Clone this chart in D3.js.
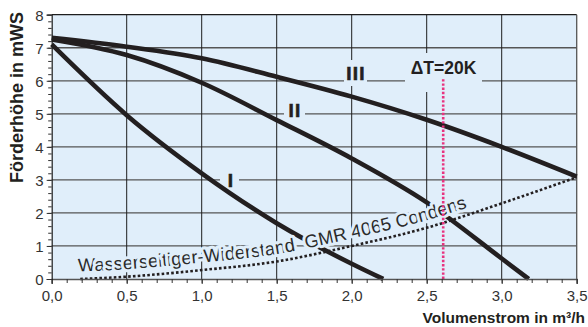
<!DOCTYPE html>
<html>
<head>
<meta charset="utf-8">
<script src="https://cdn.jsdelivr.net/npm/d3@7"></script>
<style>
  body { margin: 0; background: #fff; }
  svg { display: block; font-family: "Liberation Sans", Arial, sans-serif; }
  .tick text { fill: #333; font-size: 15px; }
</style>
</head>
<body>
<div id="chart"></div>
<script>
// Pumpenkennlinien (Förderhöhe über Volumenstrom)
const stufeI_x   = [0, 0.5, 1.0, 1.5, 2.0, 2.21];
const stufeI_y   = [7.1, 4.96, 3.2, 1.69, 0.46, 0];
const stufeII_x  = [0, 0.5, 1.0, 1.5, 2.0, 2.5, 3.0, 3.18];
const stufeII_y  = [7.25, 6.78, 5.94, 4.81, 3.65, 2.32, 0.62, 0];
const stufeIII_x = [0, 0.5, 1.0, 1.5, 2.0, 2.5, 3.0, 3.5];
const stufeIII_y = [7.3, 7.03, 6.68, 6.12, 5.52, 4.82, 4.0, 3.1];
// Wasserseitiger Widerstand
const widerstand_x = [0.19, 0.5, 1.0, 1.5, 2.0, 2.5, 3.0, 3.5];
const widerstand_y = [0, 0.07, 0.27, 0.53, 1.0, 1.55, 2.29, 3.08];
// Auslegungspunkt ΔT=20K
const deltaT_x = 2.61;
const deltaT_top = 6.05;

const xTicks = [0, 0.5, 1.0, 1.5, 2.0, 2.5, 3.0, 3.5];
const yTicks = [0, 1, 2, 3, 4, 5, 6, 7, 8];

const width = 588, height = 327;
const bg = "#e0eefa";
const ink = "#231f20";

const svg = d3.select("#chart").append("svg")
    .attr("width", width)
    .attr("height", height);

const x = d3.scaleLinear().domain([0, 3.5]).range([51.7, 576.7]);
const y = d3.scaleLinear().domain([0, 8]).range([279, 14.7]);

// Hintergrund
svg.append("rect")
    .attr("x", x(0)).attr("y", y(8))
    .attr("width", x(3.5) - x(0)).attr("height", y(0) - y(8))
    .attr("fill", bg);

// Gitter
svg.append("g").selectAll("line")
    .data(yTicks.slice(1, -1))
    .join("line")
    .attr("x1", x(0)).attr("x2", x(3.5))
    .attr("y1", d => y(d)).attr("y2", d => y(d))
    .attr("stroke", "#555").attr("stroke-width", 1.3);

svg.append("g").selectAll("line")
    .data(xTicks.slice(1, -1))
    .join("line")
    .attr("x1", d => x(d)).attr("x2", d => x(d))
    .attr("y1", y(0)).attr("y2", y(8))
    .attr("stroke", "#1e1e1e").attr("stroke-width", 1);

// Rahmen oben / rechts
svg.append("line").attr("x1", x(0)).attr("x2", x(3.5)).attr("y1", y(8)).attr("y2", y(8))
    .attr("stroke", "#1e1e1e").attr("stroke-width", 1.2);
svg.append("line").attr("x1", x(3.5)).attr("x2", x(3.5)).attr("y1", y(8)).attr("y2", y(0))
    .attr("stroke", "#555").attr("stroke-width", 1.3);

// Label-Boxen (verdecken das Gitter)
const boxes = [
    [344, 60, 23, 26],   // III
    [284, 98, 21, 21],   // II
    [220, 168, 19, 24],  // I
    [405, 53, 77, 39]    // ΔT
];
svg.append("g").selectAll("rect")
    .data(boxes)
    .join("rect")
    .attr("x", d => d[0]).attr("y", d => d[1])
    .attr("width", d => d[2]).attr("height", d => d[3])
    .attr("fill", bg);

// Kennlinien
const line = d3.line()
    .x(d => x(d[0]))
    .y(d => y(d[1]))
    .curve(d3.curveMonotoneX);

const curves = [
    d3.zip(stufeI_x, stufeI_y),
    d3.zip(stufeII_x, stufeII_y),
    d3.zip(stufeIII_x, stufeIII_y)
];
svg.append("g").selectAll("path")
    .data(curves)
    .join("path")
    .attr("d", line)
    .attr("fill", "none")
    .attr("stroke", ink)
    .attr("stroke-width", 4.6);

// Text entlang der Widerstandskurve
const wData = d3.zip(widerstand_x, widerstand_y);
const textLine = d3.line()
    .x(d => x(d[0]))
    .y(d => y(d[1]) - 7.5)
    .curve(d3.curveMonotoneX);

svg.append("defs").append("path")
    .attr("id", "wpath")
    .attr("d", textLine(wData));

svg.append("text")
    .attr("font-size", 18.3)
    .attr("fill", "#2a2a2a")
    .attr("stroke", bg)
    .attr("stroke-width", 6)
    .attr("stroke-linejoin", "round")
    .attr("paint-order", "stroke")
    .style("white-space", "pre")
    .append("textPath")
    .attr("href", "#wpath")
    .attr("startOffset", -2)
    .text("Wasserseitiger-Widerstand  GMR 4065 Condens");

// Widerstandskurve gepunktet
svg.append("path")
    .attr("d", line(wData))
    .attr("fill", "none")
    .attr("stroke", ink)
    .attr("stroke-width", 2.6)
    .attr("stroke-dasharray", "2.6,2.2");

// ΔT=20K Linie
svg.append("line")
    .attr("x1", x(deltaT_x)).attr("x2", x(deltaT_x))
    .attr("y1", y(0)).attr("y2", y(deltaT_top))
    .attr("stroke", "#e8337f")
    .attr("stroke-width", 2.6)
    .attr("stroke-dasharray", "2.4,1.8");

// Beschriftung der Kurven
const labels = [
    { t: "III", x: 356, y: 80, ls: 1.2, fs: 19 },
    { t: "II", x: 295, y: 117, ls: 1.2, fs: 19 },
    { t: "I", x: 230.5, y: 187, ls: 0, fs: 19 },
    { t: "ΔT=20K", x: 443.5, y: 74, ls: 0, fs: 17.5 }
];
svg.append("g").selectAll("text")
    .data(labels)
    .join("text")
    .attr("x", d => d.x).attr("y", d => d.y)
    .attr("text-anchor", "middle")
    .attr("font-weight", "bold")
    .attr("font-size", d => d.fs)
    .attr("letter-spacing", d => d.ls)
    .attr("fill", ink)
    .attr("stroke", ink)
    .attr("stroke-width", d => d.t.length < 4 ? 0.6 : 0)
    .text(d => d.t);

// Achsen
const fmt = d => d3.format(".1f")(d).replace(".", ",");

const xAxis = svg.append("g")
    .attr("transform", `translate(0,${y(0)})`)
    .call(d3.axisBottom(x).tickValues(xTicks).tickFormat(fmt).tickSize(5).tickPadding(6));
xAxis.select(".domain").attr("stroke", "#555").attr("stroke-width", 1.3);
xAxis.selectAll(".tick line").attr("stroke", "#333");

const xMinor = svg.append("g")
    .attr("transform", `translate(0,${y(0)})`)
    .call(d3.axisBottom(x).ticks(35).tickFormat("").tickSize(4));
xMinor.select(".domain").remove();
xMinor.selectAll(".tick line").attr("stroke", "#333");

const yAxis = svg.append("g")
    .attr("transform", `translate(${x(0)},0)`)
    .call(d3.axisLeft(y).tickValues(yTicks).tickFormat(d3.format("d")).tickSize(5).tickPadding(3));
yAxis.select(".domain").attr("stroke", "#1e1e1e").attr("stroke-width", 1.2);
yAxis.selectAll(".tick line").attr("stroke", "#333");
yAxis.selectAll(".tick text").attr("dy", "0.36em");

const yMinor = svg.append("g")
    .attr("transform", `translate(${x(0)},0)`)
    .call(d3.axisLeft(y).ticks(40).tickFormat("").tickSize(3.5));
yMinor.select(".domain").remove();
yMinor.selectAll(".tick line").attr("stroke", "#333");

// Achsentitel
svg.append("text")
    .attr("transform", "translate(23,12) rotate(-90)")
    .attr("text-anchor", "end")
    .attr("font-weight", "bold")
    .attr("font-size", 18)
    .attr("fill", ink)
    .text("Förderhöhe in mWS");

svg.append("text")
    .attr("x", 585).attr("y", 323)
    .attr("text-anchor", "end")
    .attr("font-weight", "bold")
    .attr("font-size", 15.5)
    .attr("fill", ink)
    .text("Volumenstrom in m³/h");
</script>
</body>
</html>
